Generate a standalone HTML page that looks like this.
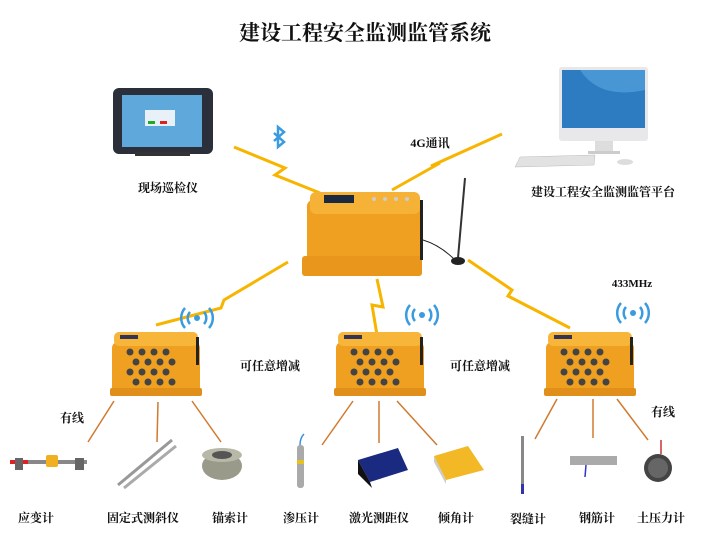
<!DOCTYPE html>
<html><head><meta charset="utf-8">
<style>
html,body{margin:0;padding:0;background:#fff;}
svg{display:block}
text{font-family:"Liberation Serif","Noto Serif CJK SC",serif;font-weight:bold;fill:#111;}
</style></head>
<body>
<svg width="720" height="538" viewBox="0 0 720 538" xmlns="http://www.w3.org/2000/svg">
<defs>
<g id="sub">
  <rect x="0" y="10" width="88" height="54" rx="6" fill="#f0a020"/>
  <rect x="2" y="0" width="84" height="14" rx="5" fill="#f7b53a"/>
  <rect x="8" y="3" width="18" height="4" fill="#335"/>
  <rect x="-2" y="56" width="92" height="8" rx="2" fill="#e0901a"/>
  <g fill="#444">
    <circle cx="18" cy="20" r="3.5"/><circle cx="30" cy="20" r="3.5"/><circle cx="42" cy="20" r="3.5"/><circle cx="54" cy="20" r="3.5"/>
    <circle cx="24" cy="30" r="3.5"/><circle cx="36" cy="30" r="3.5"/><circle cx="48" cy="30" r="3.5"/><circle cx="60" cy="30" r="3.5"/>
    <circle cx="18" cy="40" r="3.5"/><circle cx="30" cy="40" r="3.5"/><circle cx="42" cy="40" r="3.5"/><circle cx="54" cy="40" r="3.5"/>
    <circle cx="24" cy="50" r="3.5"/><circle cx="36" cy="50" r="3.5"/><circle cx="48" cy="50" r="3.5"/><circle cx="60" cy="50" r="3.5"/>
  </g>
  <rect x="84" y="5" width="3" height="28" fill="#222"/>
</g>
<g id="wifi" fill="none" stroke="#3a9be0" stroke-width="2.5">
  <circle cx="0" cy="0" r="3" fill="#3a9be0" stroke="none"/>
  <path d="M-7,-6 A9,9 0 0 0 -7,6"/><path d="M7,-6 A9,9 0 0 1 7,6"/>
  <path d="M-12,-10 A15,15 0 0 0 -12,10"/><path d="M12,-10 A15,15 0 0 1 12,10"/>
</g>
</defs>

<text x="365" y="40" font-size="21" text-anchor="middle">建设工程安全监测监管系统</text>

<!-- tablet -->
<rect x="113" y="88" width="100" height="66" rx="6" fill="#2a2f3a"/>
<rect x="122" y="95" width="80" height="52" fill="#5ea8dc"/>
<rect x="145" y="110" width="30" height="16" fill="#e8f0f8"/>
<rect x="148" y="121" width="7" height="3" fill="#2a2"/><rect x="160" y="121" width="7" height="3" fill="#d22"/>
<rect x="135" y="152" width="55" height="4" fill="#333"/>
<text x="168" y="192" font-size="12" text-anchor="middle">现场巡检仪</text>

<!-- bluetooth -->
<path d="M274,133 L284,142 L278,147 L278,127 L284,132 L274,141" fill="none" stroke="#3a9be0" stroke-width="2.5"/>

<!-- computer -->
<rect x="559" y="67" width="89" height="74" rx="3" fill="#e8e8ea"/>
<rect x="562" y="70" width="83" height="58" fill="#2d7bc0"/>
<path d="M580,70 Q600,100 645,90 L645,70 Z" fill="#5aa8e0" opacity="0.6"/>
<rect x="595" y="141" width="18" height="11" fill="#ddd"/>
<rect x="588" y="151" width="32" height="3" fill="#ccc"/>
<polygon points="520,157 595,155 594,165 515,167" fill="#e2e2e2" stroke="#bbb" stroke-width="0.5"/>
<ellipse cx="625" cy="162" rx="8" ry="3" fill="#ddd"/>
<text x="603" y="196" font-size="12" text-anchor="middle">建设工程安全监测监管平台</text>
<text x="430" y="147" font-size="12" text-anchor="middle">4G通讯</text>

<!-- lightning -->
<g fill="none" stroke="#f7b500" stroke-width="3" stroke-linejoin="miter">
  <polyline points="234,147 285,168 275,175 320,193"/>
  <polyline points="392,190 440,163 431,166 502,134"/>
  <polyline points="288,262 224,300 221,308 156,325"/>
  <polyline points="377,279 383,307 372,305 377,335"/>
  <polyline points="468,260 512,290 508,296 570,328"/>
</g>

<!-- main box -->
<rect x="307" y="200" width="114" height="64" rx="6" fill="#f0a020"/>
<rect x="310" y="192" width="110" height="22" rx="6" fill="#f5b236"/>
<rect x="324" y="195" width="30" height="8" fill="#1a2a40"/>
<circle cx="374" cy="199" r="2" fill="#ccc"/><circle cx="385" cy="199" r="2" fill="#ccc"/><circle cx="396" cy="199" r="2" fill="#ccc"/><circle cx="407" cy="199" r="2" fill="#ccc"/>
<rect x="302" y="256" width="120" height="20" rx="3" fill="#e8961c"/>
<rect x="420" y="200" width="3" height="60" fill="#222"/>
<path d="M423,240 Q440,245 455,260" fill="none" stroke="#222" stroke-width="1"/>
<line x1="465" y1="178" x2="458" y2="258" stroke="#333" stroke-width="2"/>
<ellipse cx="458" cy="261" rx="7" ry="4" fill="#222"/>

<!-- sub boxes -->
<use href="#sub" x="112" y="332"/>
<use href="#sub" x="336" y="332"/>
<use href="#sub" x="546" y="332"/>
<use href="#wifi" x="197" y="318"/>
<use href="#wifi" x="422" y="315"/>
<use href="#wifi" x="633" y="313"/>
<text x="270" y="370" font-size="12" text-anchor="middle">可任意增减</text>
<text x="480" y="370" font-size="12" text-anchor="middle">可任意增减</text>
<text x="632" y="287" font-size="11" text-anchor="middle">433MHz</text>
<text x="72" y="422" font-size="12" text-anchor="middle">有线</text>
<text x="663" y="416" font-size="12" text-anchor="middle">有线</text>

<!-- sensor lines -->
<g stroke="#d07a30" stroke-width="1.5">
  <line x1="114" y1="401" x2="88" y2="442"/>
  <line x1="158" y1="402" x2="157" y2="442"/>
  <line x1="192" y1="401" x2="221" y2="442"/>
  <line x1="353" y1="401" x2="322" y2="445"/>
  <line x1="379" y1="401" x2="379" y2="443"/>
  <line x1="397" y1="401" x2="437" y2="445"/>
  <line x1="557" y1="399" x2="535" y2="439"/>
  <line x1="593" y1="399" x2="593" y2="438"/>
  <line x1="617" y1="399" x2="648" y2="440"/>
</g>

<!-- sensors -->
<rect x="12" y="460" width="75" height="4" fill="#888"/>
<rect x="10" y="460" width="18" height="4" fill="#d22"/>
<rect x="46" y="455" width="12" height="12" rx="2" fill="#f0b020"/>
<rect x="15" y="458" width="8" height="12" fill="#666"/><rect x="75" y="458" width="9" height="12" fill="#666"/>
<line x1="118" y1="485" x2="172" y2="440" stroke="#999" stroke-width="3"/>
<line x1="124" y1="488" x2="176" y2="446" stroke="#aaa" stroke-width="3"/>
<ellipse cx="222" cy="466" rx="20" ry="14" fill="#9a9a8a"/>
<ellipse cx="222" cy="455" rx="20" ry="7" fill="#b8b8a8"/><ellipse cx="222" cy="455" rx="10" ry="4" fill="#555"/>
<rect x="297" y="445" width="7" height="43" rx="3" fill="#aaa"/>
<rect x="297" y="460" width="7" height="4" fill="#e8c020"/>
<path d="M300,445 Q300,438 304,434" stroke="#3a8ee0" fill="none" stroke-width="1.5"/>
<polygon points="358,460 398,448 408,470 370,482" fill="#1a2a80"/>
<polygon points="358,460 370,482 372,488 358,474" fill="#111"/>
<polygon points="434,456 468,446 484,470 446,480" fill="#f3b825"/>
<polygon points="434,456 446,480 446,484 434,462" fill="#ccc"/>
<rect x="521" y="436" width="3" height="58" fill="#888"/><rect x="521" y="484" width="3" height="10" fill="#33a"/>
<rect x="570" y="456" width="47" height="9" fill="#aaa"/>
<line x1="586" y1="465" x2="585" y2="477" stroke="#33c" stroke-width="1.5"/>
<circle cx="658" cy="468" r="14" fill="#444"/><circle cx="658" cy="468" r="10" fill="#666"/>
<line x1="661" y1="440" x2="661" y2="454" stroke="#c33" stroke-width="1.5"/>

<g font-size="12" text-anchor="middle">
<text x="36" y="522">应变计</text>
<text x="143" y="522">固定式测斜仪</text>
<text x="230" y="522">锚索计</text>
<text x="301" y="522">渗压计</text>
<text x="379" y="522">激光测距仪</text>
<text x="456" y="522">倾角计</text>
<text x="528" y="523">裂缝计</text>
<text x="597" y="522">钢筋计</text>
<text x="661" y="522">土压力计</text>
</g>
</svg>
</body></html>
